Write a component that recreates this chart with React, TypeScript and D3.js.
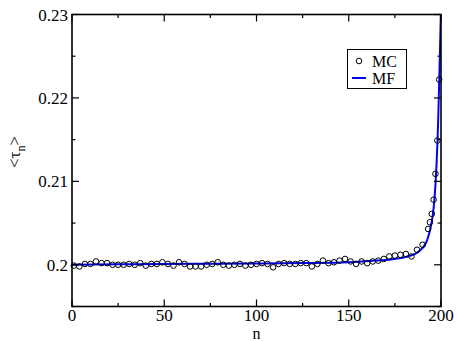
import React, { useEffect, useRef } from 'react';
import * as d3 from 'd3';

// MC points (n, <tau_n>)
const mcN = [
  1, 4, 7, 10, 13, 16, 19, 22, 25, 28, 31, 34, 37, 40, 43, 46, 49, 52, 55, 58,
  61, 64, 67, 70, 73, 76, 79, 82, 85, 88, 91, 94, 97, 100, 103, 106, 109, 112,
  115, 118, 121, 124, 127, 130, 133, 136, 139, 142, 145, 148, 151, 154, 157,
  160, 163, 166, 169, 172, 175, 178, 181, 184, 187, 190, 193, 194, 195, 196,
  197, 198, 199,
];
const mcTau = [
  0.1999, 0.1998, 0.2001, 0.2001, 0.2004, 0.2002, 0.2002, 0.2, 0.2, 0.2,
  0.2001, 0.2, 0.2002, 0.1999, 0.2001, 0.2001, 0.2003, 0.2001, 0.1999, 0.2003,
  0.2001, 0.1998, 0.1998, 0.1998, 0.2, 0.2001, 0.2003, 0.2, 0.1999, 0.2,
  0.2001, 0.1999, 0.2, 0.2001, 0.2002, 0.2001, 0.1997, 0.2001, 0.2002, 0.2001,
  0.2001, 0.2002, 0.2002, 0.1998, 0.2001, 0.2005, 0.2002, 0.2003, 0.2005,
  0.2007, 0.2004, 0.2001, 0.2004, 0.2002, 0.2004, 0.2005, 0.2007, 0.201,
  0.2011, 0.2012, 0.2013, 0.201, 0.2018, 0.2024, 0.2043, 0.2051, 0.2061,
  0.2078, 0.2109, 0.2149, 0.2222,
];

// MF curve
const mfN = [0, 25, 50, 75, 100, 125, 150, 165, 175, 182, 186, 189, 191, 192, 193, 194, 195, 196, 197, 198, 198.5, 199, 199.5, 200];
const mfTau = [
  0.2, 0.20005, 0.2001, 0.20012, 0.20015, 0.2002, 0.2003, 0.2005, 0.2007,
  0.201, 0.2013, 0.2018, 0.2023, 0.2027, 0.2033, 0.2041, 0.2052, 0.2068,
  0.2096, 0.2142, 0.2175, 0.2218, 0.2262, 0.231,
];

const xTicks = [0, 50, 100, 150, 200];
const yTicks = [0.2, 0.21, 0.22, 0.23];

const W = 457;
const H = 341;
const FONT = "'Liberation Serif', 'Times New Roman', Times, 'DejaVu Serif', serif";

export default function App() {
  const svgRef = useRef<SVGSVGElement>(null);

  useEffect(() => {
    if (!svgRef.current) return;
    const svg = d3.select(svgRef.current);
    svg.selectAll('*').remove();

    const left = 72, right = 441, top = 14.5, bottom = 306.5;
    const x = d3.scaleLinear().domain([0, 200]).range([left, right]);
    const y = d3.scaleLinear().domain([0.195, 0.23]).range([bottom, top]);

    svg.append('defs').append('clipPath').attr('id', 'plotclip')
      .append('rect')
      .attr('x', left).attr('y', top)
      .attr('width', right - left).attr('height', bottom - top);

    // MF line
    const mf = mfN.map((n, i) => [n, mfTau[i]] as [number, number]);
    const line = d3.line<[number, number]>()
      .x(d => x(d[0]))
      .y(d => y(d[1]))
      .curve(d3.curveMonotoneX);

    svg.append('path')
      .datum(mf)
      .attr('clip-path', 'url(#plotclip)')
      .attr('d', line)
      .attr('fill', 'none')
      .attr('stroke', '#0000ff')
      .attr('stroke-width', 2);

    // MC circles
    svg.append('g')
      .selectAll('circle')
      .data(mcN)
      .enter()
      .append('circle')
      .attr('cx', d => x(d))
      .attr('cy', (d, i) => y(mcTau[i]))
      .attr('r', 2.8)
      .attr('fill', 'none')
      .attr('stroke', '#000')
      .attr('stroke-width', 1);

    // frame
    svg.append('rect')
      .attr('x', left).attr('y', top)
      .attr('width', right - left).attr('height', bottom - top)
      .attr('fill', 'none')
      .attr('stroke', '#000')
      .attr('stroke-width', 1.6);

    // ticks (inward, mirrored)
    const ticks = svg.append('g').attr('stroke', '#000').attr('stroke-width', 1.2);
    d3.range(0, 201, 25).forEach(v => {
      const len = v % 50 === 0 ? 7 : 3.5;
      ticks.append('line').attr('x1', x(v)).attr('x2', x(v)).attr('y1', bottom).attr('y2', bottom - len);
      ticks.append('line').attr('x1', x(v)).attr('x2', x(v)).attr('y1', top).attr('y2', top + len);
    });
    d3.range(0, 8).map(k => 0.195 + k * 0.005).forEach(v => {
      const major = yTicks.some(t => Math.abs(t - v) < 1e-9);
      const len = major ? 7 : 3.5;
      ticks.append('line').attr('y1', y(v)).attr('y2', y(v)).attr('x1', left).attr('x2', left + len);
      ticks.append('line').attr('y1', y(v)).attr('y2', y(v)).attr('x1', right).attr('x2', right - len);
    });

    const txt = (sel: any, size: number) =>
      sel.attr('font-family', FONT).attr('font-size', size).attr('fill', '#000');

    // tick labels
    txt(svg.append('g')
      .selectAll('text')
      .data(xTicks)
      .enter()
      .append('text')
      .attr('x', d => x(d))
      .attr('y', 321)
      .attr('text-anchor', 'middle')
      .text(d => String(d)), 17);

    txt(svg.append('g')
      .selectAll('text')
      .data(yTicks)
      .enter()
      .append('text')
      .attr('x', 68)
      .attr('y', d => y(d) + 6)
      .attr('text-anchor', 'end')
      .text(d => d === 0.2 ? '0.2' : d.toFixed(2)), 17);

    // axis titles
    txt(svg.append('text')
      .attr('x', x(100))
      .attr('y', 339)
      .attr('text-anchor', 'middle')
      .text('n'), 16);

    const yl = txt(svg.append('text')
      .attr('transform', 'translate(20,152) rotate(-90)')
      .attr('text-anchor', 'middle'), 17);
    yl.append('tspan').text('<τ');
    yl.append('tspan').attr('dy', 5).attr('font-size', 12).text('n');
    yl.append('tspan').attr('dy', -5).text('>');

    // legend
    const lg = svg.append('g');
    lg.append('rect')
      .attr('x', 347.5).attr('y', 49.5)
      .attr('width', 59).attr('height', 39)
      .attr('fill', '#fff')
      .attr('stroke', '#000')
      .attr('stroke-width', 1);
    lg.append('circle')
      .attr('cx', 359).attr('cy', 61).attr('r', 2.8)
      .attr('fill', 'none').attr('stroke', '#000');
    lg.append('line')
      .attr('x1', 352).attr('x2', 366).attr('y1', 78).attr('y2', 78)
      .attr('stroke', '#0000ff').attr('stroke-width', 2);
    txt(lg.append('text').attr('x', 372).attr('y', 67).text('MC'), 16);
    txt(lg.append('text').attr('x', 372).attr('y', 84).text('MF'), 16);
  }, []);

  return (
    <svg
      ref={svgRef}
      width={W}
      height={H}
      style={{ position: 'absolute', left: 0, top: 0, background: '#fff' }}
    />
  );
}
